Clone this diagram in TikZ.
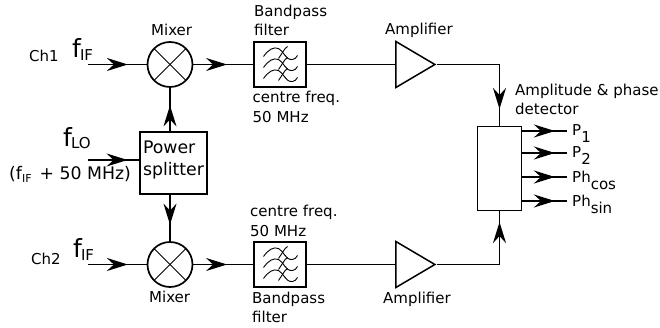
\documentclass[tikz,border=0pt]{standalone}
\usepackage{fontspec}
\setmainfont{DejaVu Sans}
\usetikzlibrary{arrows.meta,decorations.markings,shapes.geometric}
\newcommand{\fsize}[1]{\fontsize{#1}{#1}\selectfont}
\newcommand{\bigsub}[2]{{\fsize{25}#1}\kern-1pt{\fsize{15}\raisebox{-3pt}{#2}}}
\newcommand{\lowsub}[2]{#1\raisebox{-7pt}{#2}}
\newcommand{\wave}[1]{
\draw[line width=.9pt] (-16,3+#1) .. controls (-11,-4+#1) and (-6,-7+#1) .. (-1,-5+#1) .. controls (4,-3+#1) and (6,7+#1) .. (13,6+#1) .. controls (15,6+#1) and (17,4+#1) .. (18,2+#1);
\draw[line width=.9pt] (-1,5+#1) -- (3,-1+#1) .. controls (5,-4+#1) and (6,-6+#1) .. (8,-7+#1);
}
\tikzset{
ln/.style={line width=1.7pt},
midarrow/.style={postaction={decorate},decoration={markings,mark=at position #1 with {\arrow{Stealth[length=21pt,width=13pt,inset=7pt]}}}},
lbl/.style={anchor=base west,inner sep=0pt,font=\fsize{15}},
mixer/.style={circle,draw,line width=1.7pt,minimum size=45pt,inner sep=0pt,path picture={
\draw[line width=1pt] (path picture bounding box.north west) -- (path picture bounding box.south east);
\draw[line width=1pt] (path picture bounding box.north east) -- (path picture bounding box.south west);}},
bpf/.style={rectangle,draw,line width=2pt,minimum width=52pt,minimum height=45pt,inner sep=0pt,path picture={
\wave{-11}\wave{0}\wave{11}}},
amp/.style={isosceles triangle,isosceles triangle stretches,draw,line width=1.5pt,minimum width=46pt,minimum height=39pt,inner sep=0pt},
}
\begin{document}
\begin{tikzpicture}[x=1pt,y=-1pt]
\useasboundingbox (0,0) rectangle (660,328);
\node[mixer] (mixa) at (170,64.5){};
\node[mixer] (mixb) at (170,264.5){};
\node[bpf] (bpfa) at (279.5,64.5){};
\node[bpf] (bpfb) at (279.5,264.5){};
\node[amp] (ampa) at (409,64.5){};
\node[amp] (ampb) at (409,264.5){};
\node[rectangle,draw,line width=2.5pt,minimum width=67pt,minimum height=62pt,inner sep=0pt,align=left,text depth=10pt,font=\fontsize{17.3}{22}\selectfont] (split) at (173.5,163){Power\\splitter};
\node[rectangle,draw,line width=1.6pt,minimum width=44pt,minimum height=84pt,inner sep=0pt] (det) at (499.5,168.5){};
\coordinate (cha) at (88,64.5);
\coordinate (chb) at (88,264.5);
\coordinate (lo) at (88,160);
\coordinate (pa) at (567,131);
\coordinate (pb) at (567,153);
\coordinate (pc) at (567,177);
\coordinate (pd) at (567,201);
\draw[ln,midarrow=.68] (cha) -- (mixa);
\draw[ln,midarrow=.68] (chb) -- (mixb);
\draw[ln,midarrow=.57] (mixa) -- (bpfa);
\draw[ln,midarrow=.57] (mixb) -- (bpfb);
\draw[ln] (bpfa) -- (ampa);
\draw[ln] (bpfb) -- (ampb);
\draw[ln,midarrow=.78] (lo) -- (lo -| split.west);
\draw[ln,midarrow=.59] (mixa |- split.north) -- (mixa);
\draw[ln,midarrow=.64] (mixb |- split.south) -- (mixb);
\draw[ln,midarrow=.865] (ampa.apex) -| (det.north);
\draw[ln,midarrow=.907] (ampb.apex) -| (det.south);
\draw[ln,midarrow=.73] (pa -| det.east) -- (pa);
\draw[ln,midarrow=.73] (pb -| det.east) -- (pb);
\draw[ln,midarrow=.73] (pc -| det.east) -- (pc);
\draw[ln,midarrow=.73] (pd -| det.east) -- (pd);
\node[lbl] (ch1) at (29,62){Ch1};
\node[lbl] (ch2) at (31,264){Ch2};
\node[lbl] (fifa) at (72,58){\bigsub{f}{IF}};
\node[lbl] (fifb) at (73,258){\bigsub{f}{IF}};
\node[lbl] (flo) at (63,147){{\fsize{25}f}\kern-1pt{\fsize{15}\raisebox{-2pt}{LO}}};
\node[lbl,font=\fsize{17.3}] (lofreq) at (9,180){(f{\fsize{11}\raisebox{-3pt}{IF}}\kern8pt + 50 MHz)};
\node[lbl] (mixla) at (151,36){Mixer};
\node[lbl] (mixlb) at (149,302){Mixer};
\node[lbl] (bpla) at (254,17){Bandpass};
\node[lbl] (fila) at (254,36){filter};
\node[lbl] (cfa) at (252.5,103){centre freq.};
\node[lbl] (mhza) at (252.5,123){50 MHz};
\node[lbl] (cfb) at (250,217){centre freq.};
\node[lbl] (mhzb) at (250,237){50 MHz};
\node[lbl] (bplb) at (252,303){Bandpass};
\node[lbl] (filb) at (252,322){filter};
\node[lbl] (ampla) at (385,35){Amplifier};
\node[lbl] (amplb) at (383,303){Amplifier};
\node[lbl] (detla) at (515,96){Amplitude \& phase};
\node[lbl] (detlb) at (515,115){detector};
\node[lbl] (pla) at (572,136){\lowsub{P}{1}};
\node[lbl] (plb) at (572,158){\lowsub{P}{2}};
\node[lbl] (plc) at (572,183){\lowsub{Ph}{cos}};
\node[lbl] (pld) at (572,207){\lowsub{Ph}{sin}};
\end{tikzpicture}
\end{document}
